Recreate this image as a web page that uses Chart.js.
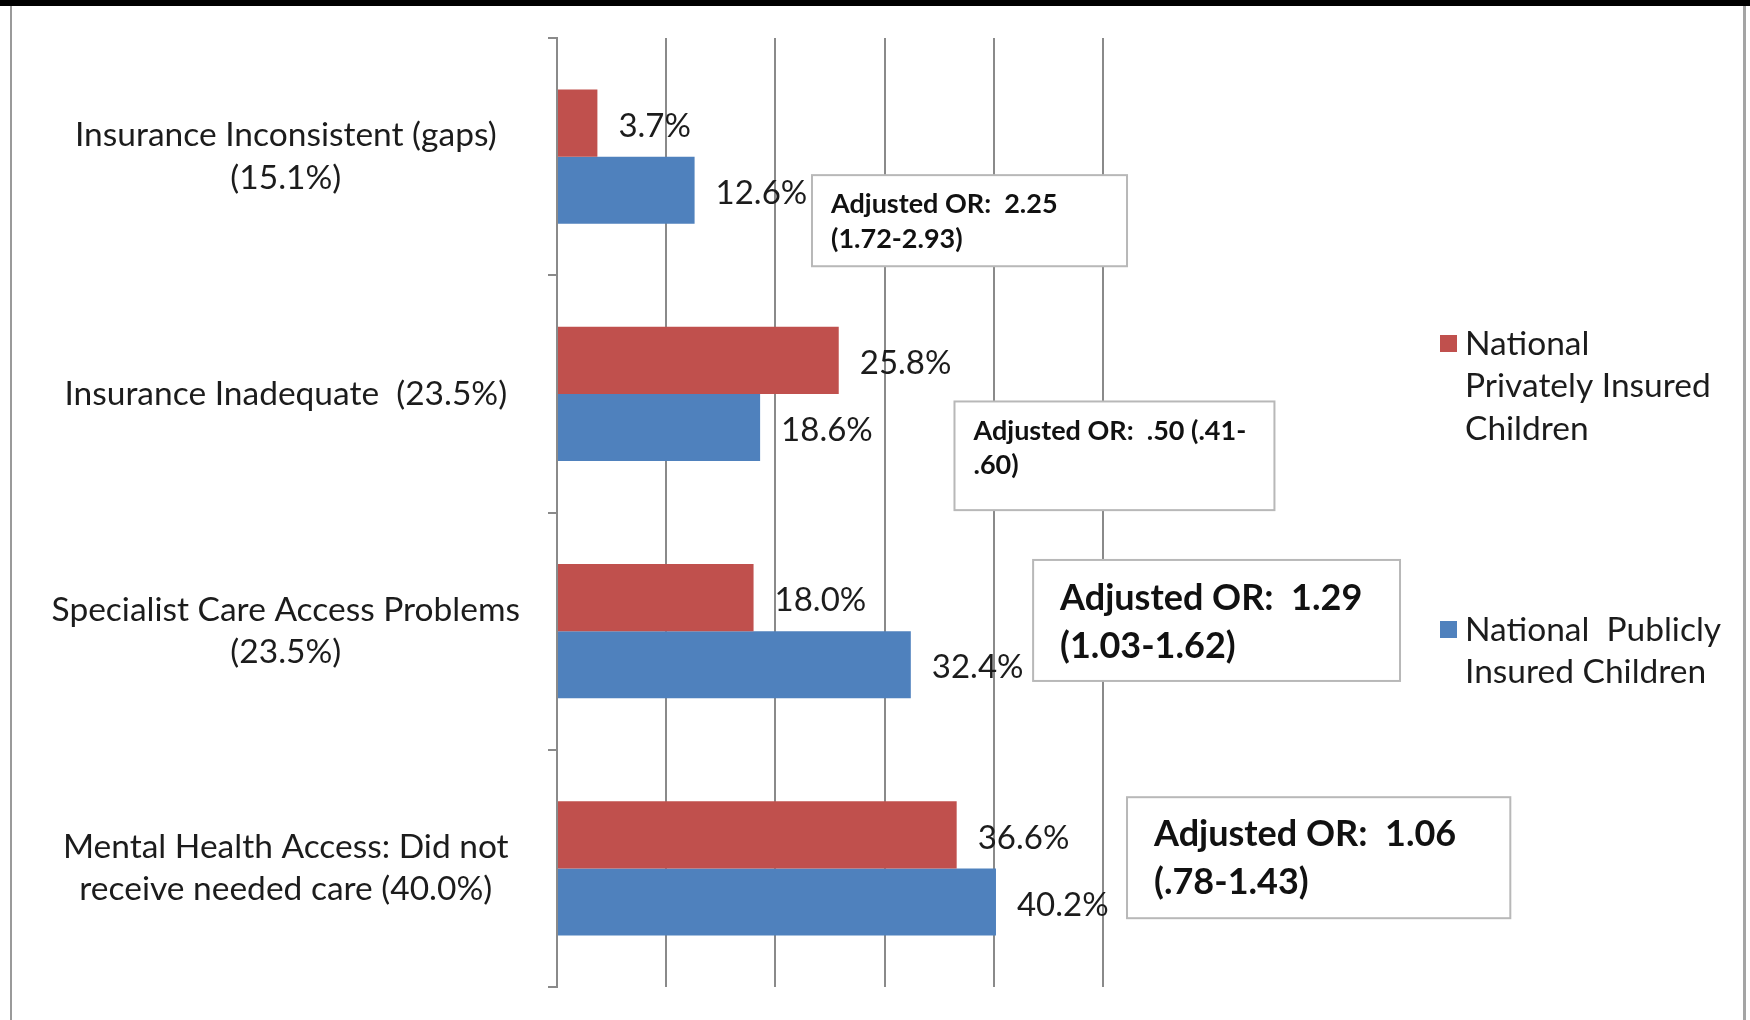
<!DOCTYPE html>
<html>
<head>
<meta charset="utf-8">
<title>Access problems by insurance type</title>
<script src="https://cdn.jsdelivr.net/npm/chart.js@4.4.0/dist/chart.umd.min.js"></script>
<style>
  html, body { margin: 0; padding: 0; background: #fff; }
  #frame { position: relative; width: 1750px; height: 1020px; overflow: hidden; background: #fff; }
  #chartBox { position: absolute; left: 0; top: 0; width: 1750px; height: 1020px; }
  #topBand { position: absolute; left: 0; top: 0; width: 1750px; height: 6px; background: #000; }
  #leftRule { position: absolute; left: 10px; top: 6px; width: 2px; height: 1014px; background: #9a9a9a; }
  #rightRule { position: absolute; left: 1743px; top: 6px; width: 3px; height: 1014px; background: #a4a4a4; }
</style>
</head>
<body>
<div id="frame">
  <div id="chartBox"><canvas id="chartAccess"></canvas></div>
  <div id="topBand"></div>
  <div id="leftRule"></div>
  <div id="rightRule"></div>
</div>
<script>
// categories (multi-line labels) and the two series, top to bottom
const categories = [
  ['Insurance Inconsistent (gaps)', '(15.1%)'],
  ['Insurance Inadequate  (23.5%)'],
  ['Specialist Care Access Problems', '(23.5%)'],
  ['Mental Health Access: Did not', 'receive needed care (40.0%)']
];
const privateLabel = ['National', 'Privately Insured', 'Children'];
const publicLabel = ['National  Publicly', 'Insured Children'];
const privateValues = [3.7, 25.8, 18.0, 36.6];
const publicValues = [12.6, 18.6, 32.4, 40.2];
const xMin = 0;
const xMax = 50;
const xStep = 10;

// adjusted odds ratio call-outs, one per category
const oddsNotes = [
  ['Adjusted OR:  2.25', '(1.72-2.93)'],
  ['Adjusted OR:  .50 (.41-', '.60)'],
  ['Adjusted OR:  1.29', '(1.03-1.62)'],
  ['Adjusted OR:  1.06', '(.78-1.43)']
];

const RED = '#C0504D';
const BLUE = '#4F81BD';
const GRID = '#8a8a8a';
const TEXT = '#1c1c1c';
const FONT = 'Lato, "Open Sans", sans-serif';

// box placement: x in axis units, y as fraction of a category band from its centre
const noteBoxes = [
  { x0: 23.35, x1: 52.2, y0: 0.078, y1: 0.462, pad: 19, size: 27, lines: [29, 64] },
  { x0: 36.4, x1: 65.7, y0: 0.032, y1: 0.49, pad: 19, size: 27, lines: [30, 64] },
  { x0: 43.6, x1: 77.2, y0: -0.30, y1: 0.21, pad: 27, size: 36, lines: [38, 86] },
  { x0: 52.2, x1: 87.3, y0: -0.30, y1: 0.21, pad: 27, size: 36, lines: [37, 85] }
];

const valueLabels = {
  id: 'valueLabels',
  afterDatasetsDraw(chart) {
    const ctx = chart.ctx;
    ctx.save();
    ctx.font = `33px ${FONT}`;
    ctx.fillStyle = TEXT;
    ctx.textAlign = 'left';
    ctx.textBaseline = 'middle';
    chart.data.datasets.forEach((ds, i) => {
      chart.getDatasetMeta(i).data.forEach((bar, j) => {
        ctx.fillText(ds.data[j].toFixed(1) + '%', bar.x + 21, bar.y + 3);
      });
    });
    ctx.restore();
  }
};

const oddsBoxes = {
  id: 'oddsBoxes',
  afterDraw(chart) {
    const ctx = chart.ctx;
    const xs = chart.scales.x, ys = chart.scales.y;
    ctx.save();
    noteBoxes.forEach((b, i) => {
      const left = xs.getPixelForValue(b.x0);
      const right = xs.getPixelForValue(b.x1);
      const top = ys.getPixelForValue(i + b.y0);
      const bottom = ys.getPixelForValue(i + b.y1);
      ctx.fillStyle = '#fff';
      ctx.fillRect(left, top, right - left, bottom - top);
      ctx.strokeStyle = '#b8b8b8';
      ctx.lineWidth = 2;
      ctx.strokeRect(left, top, right - left, bottom - top);
      ctx.fillStyle = '#111';
      ctx.font = `bold ${b.size}px ${FONT}`;
      ctx.textAlign = 'left';
      ctx.textBaseline = 'middle';
      oddsNotes[i].forEach((line, k) => ctx.fillText(line, left + b.pad, top + b.lines[k]));
    });
    ctx.restore();
  }
};

// legend drawn on the right with wrapped labels
const sideLegend = {
  id: 'sideLegend',
  afterDraw(chart) {
    const ctx = chart.ctx;
    const itemTops = [344, 630];
    ctx.save();
    ctx.font = `33.5px ${FONT}`;
    ctx.textAlign = 'left';
    ctx.textBaseline = 'middle';
    chart.data.datasets.forEach((ds, i) => {
      const y = itemTops[i];
      ctx.fillStyle = ds.backgroundColor;
      ctx.fillRect(1440, y - 9, 17, 17);
      ctx.fillStyle = TEXT;
      ds.label.forEach((line, k) => ctx.fillText(line, 1465, y + k * 42.5));
    });
    ctx.restore();
  }
};

new Chart(document.getElementById('chartAccess'), {
  type: 'bar',
  data: {
    labels: categories,
    datasets: [
      { label: privateLabel, data: privateValues, backgroundColor: RED, categoryPercentage: 0.565, barPercentage: 1 },
      { label: publicLabel, data: publicValues, backgroundColor: BLUE, categoryPercentage: 0.565, barPercentage: 1 }
    ]
  },
  options: {
    indexAxis: 'y',
    responsive: true,
    maintainAspectRatio: false,
    animation: false,
    layout: { padding: { left: 0, right: 647, top: 38, bottom: 33 } },
    plugins: { legend: { display: false }, tooltip: { enabled: false } },
    scales: {
      x: {
        min: xMin,
        max: xMax,
        ticks: { display: false, stepSize: xStep },
        grid: { color: GRID, lineWidth: 2, drawTicks: false },
        border: { display: false }
      },
      y: {
        afterFit(scale) {
          scale.width = 557;
          scale.paddingTop = 0;
          scale.paddingBottom = 0;
        },
        ticks: {
          color: TEXT,
          font: { family: FONT, size: 33.5, lineHeight: 1.27 },
          crossAlign: 'center',
          padding: 28
        },
        grid: { drawOnChartArea: false, drawTicks: true, tickLength: 9, color: GRID, lineWidth: 2, offset: true },
        border: { display: true, color: GRID, width: 2 }
      }
    }
  },
  plugins: [valueLabels, oddsBoxes, sideLegend]
});
</script>
</body>
</html>
